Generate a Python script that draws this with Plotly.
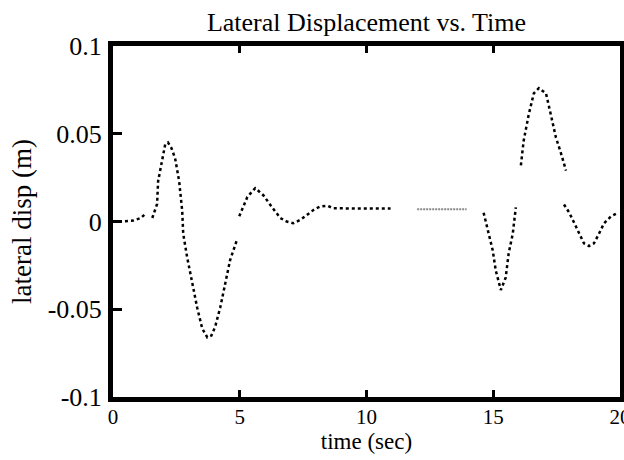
import plotly.graph_objects as go

# --- data (time in s, lateral displacement in m); None = gap ---
seg_a_t = [0.0, 0.4, 0.8, 1.1, 1.25]
seg_a_v = [0.0, 0.0, 0.0005, 0.002, 0.004]

seg_b_t = [1.55, 1.74, 1.78, 1.94, 2.06, 2.17, 2.3, 2.45, 2.61, 2.73, 2.77, 2.92, 3.12, 3.32, 3.52, 3.72, 3.88, 4.03, 4.23, 4.43, 4.62, 4.9]
seg_b_v = [0.002, 0.01, 0.023, 0.036, 0.044, 0.045, 0.042, 0.036, 0.023, 0.006, -0.007, -0.020, -0.035, -0.049, -0.061, -0.066, -0.065, -0.060, -0.049, -0.035, -0.022, -0.010]

seg_c_t = [4.98, 5.3, 5.61, 5.93, 6.28, 6.6, 6.85, 7.11, 7.4, 7.67, 7.95, 8.18, 8.46, 8.7, 9.3, 9.9, 10.5, 10.95]
seg_c_v = [0.003, 0.014, 0.019, 0.015, 0.008, 0.002, 0.0, -0.001, 0.001, 0.004, 0.007, 0.0085, 0.009, 0.0075, 0.0074, 0.0074, 0.0074, 0.0074]

seg_d_t = [12.0, 12.5, 13.0, 13.5, 13.95]
seg_d_v = [0.007, 0.007, 0.007, 0.007, 0.007]

seg_e_t = [14.62, 14.78, 14.98, 15.1, 15.3, 15.49, 15.61, 15.77, 15.89]
seg_e_v = [0.005, -0.005, -0.0165, -0.028, -0.039, -0.032, -0.018, -0.007, 0.008]

seg_f_t = [16.09, 16.2, 16.4, 16.6, 16.8, 17.08, 17.27, 17.47, 17.67, 17.87]
seg_f_v = [0.032, 0.046, 0.061, 0.073, 0.076, 0.073, 0.061, 0.048, 0.039, 0.029]

seg_g_t = [17.79, 18.0, 18.2, 18.4, 18.58, 18.78, 18.97, 19.17, 19.37, 19.65, 19.92]
seg_g_v = [0.0097, 0.005, -0.001, -0.007, -0.0125, -0.014, -0.0125, -0.007, -0.001, 0.003, 0.005]

y_tickvals = [0.1, 0.05, 0, -0.05, -0.1]
y_ticktext = ["0.1", "0.05", "0", "-0.05", "-0.1"]
x_tickvals = [0, 5, 10, 15, 20]

black_t, black_v = [], []
for ts, vs in [(seg_a_t, seg_a_v), (seg_b_t, seg_b_v), (seg_c_t, seg_c_v),
               (seg_e_t, seg_e_v), (seg_f_t, seg_f_v), (seg_g_t, seg_g_v)]:
    black_t += ts + [None]
    black_v += vs + [None]

fig = go.Figure()
fig.add_trace(go.Scatter(x=black_t, y=black_v, mode="lines",
                         line=dict(color="black", width=2.5, dash="dot"),
                         connectgaps=False, showlegend=False))
fig.add_trace(go.Scatter(x=seg_d_t, y=seg_d_v, mode="lines",
                         line=dict(color="#888888", width=2, dash="2px,1px"),
                         showlegend=False))

font = "Liberation Serif, Times New Roman, serif"
fig.update_layout(
    width=624, height=460,
    margin=dict(l=113, r=4, t=46, b=63, autoexpand=False),
    paper_bgcolor="white", plot_bgcolor="white",
    font=dict(family=font, color="black", size=24),
    title=dict(text="Lateral Displacement vs. Time", xref="paper", x=0.5, xanchor="center",
               yref="container", y=0.952, yanchor="middle",
               font=dict(family=font, size=26, color="black")),
    showlegend=False,
)
fig.update_xaxes(range=[0, 20], tickvals=x_tickvals, showgrid=False, zeroline=False,
                 automargin=False,
                 showline=True, linecolor="black", linewidth=5, mirror="ticks",
                 ticks="inside", ticklen=7, tickwidth=3, tickcolor="black",
                 ticklabeloverflow="allow", ticklabelstandoff=-3,
                 tickfont=dict(family=font, size=21),
                 title=dict(text="time (sec)", font=dict(family=font, size=23), standoff=2))
fig.update_yaxes(range=[-0.1, 0.1], tickvals=y_tickvals, ticktext=y_ticktext,
                 showgrid=False, zeroline=False, automargin=False,
                 showline=True, linecolor="black", linewidth=5, mirror=True,
                 ticks="inside", ticklen=9, tickwidth=3, tickcolor="black",
                 ticklabelstandoff=1, ticklabeloverflow="allow",
                 tickfont=dict(family=font, size=26),
                 title=dict(text="lateral disp (m)", font=dict(family=font, size=27), standoff=10))

fig.write_html("out.html", config={"displayModeBar": False},
               post_script="document.body.style.margin='0px';document.body.style.overflow='hidden';")
